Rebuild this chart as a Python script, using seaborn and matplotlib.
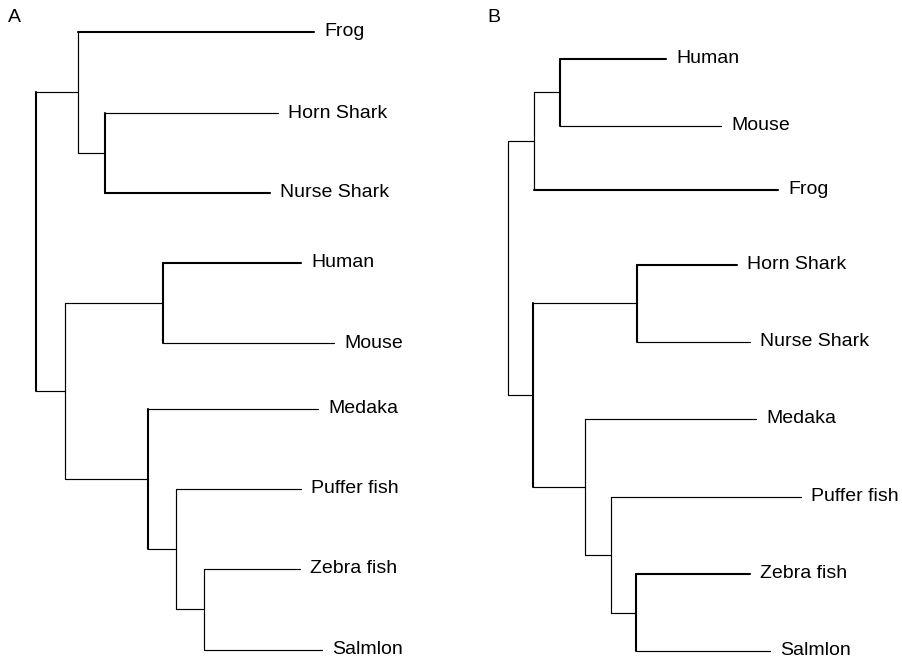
"""Two phylogenetic trees (A, B) drawn as rectangular dendrograms."""

import matplotlib
matplotlib.use("Agg")
import matplotlib.pyplot as plt
import pandas as pd
import seaborn as sns

# ---- tree A ---------------------------------------------------------------
leaves_a = ["Frog", "Horn Shark", "Nurse Shark", "Human", "Mouse",
            "Medaka", "Puffer fish", "Zebra fish", "Salmlon"]
leaf_row_a = [0.0, 1.05, 2.08, 2.99, 4.03, 4.88, 5.91, 6.95, 8.0]
leaf_depth_a = [2.78, 2.42, 2.34, 2.65, 2.98, 2.82, 2.65, 2.64, 2.86]
node_names_a = ["root", "amph_shark", "sharks", "mam_fish", "mammals",
                "fish", "puffer_clade", "zebra_salmon"]
node_children_a = [("amph_shark", "mam_fish"), ("Frog", "sharks"),
                   ("Horn Shark", "Nurse Shark"), ("mammals", "fish"),
                   ("Human", "Mouse"), ("Medaka", "puffer_clade"),
                   ("Puffer fish", "zebra_salmon"), ("Zebra fish", "Salmlon")]
node_depth_a = [0.0, 0.42, 0.69, 0.29, 1.27, 1.12, 1.40, 1.68]

# ---- tree B ---------------------------------------------------------------
leaves_b = ["Human", "Mouse", "Frog", "Horn Shark", "Nurse Shark",
            "Medaka", "Puffer fish", "Zebra fish", "Salmlon"]
leaf_row_b = [0.0, 0.905, 1.77, 2.78, 3.82, 4.86, 5.92, 6.96, 8.0]
leaf_depth_b = [1.58, 2.13, 2.70, 2.29, 2.42, 2.48, 2.93, 2.42, 2.62]
node_names_b = ["root", "tetrapods", "mammals", "shark_fish", "sharks",
                "fish", "puffer_clade", "zebra_salmon"]
node_children_b = [("tetrapods", "shark_fish"), ("mammals", "Frog"),
                   ("Human", "Mouse"), ("sharks", "fish"),
                   ("Horn Shark", "Nurse Shark"), ("Medaka", "puffer_clade"),
                   ("Puffer fish", "zebra_salmon"), ("Zebra fish", "Salmlon")]
node_depth_b = [0.0, 0.26, 0.52, 0.25, 1.29, 0.77, 1.03, 1.28]

# heavier strokes seen in the original (vertical = node, edge = child name)
bold_vert_a = {"root", "sharks", "mammals", "fish"}
bold_edge_a = {"Frog", "Nurse Shark", "Human"}
bold_vert_b = {"mammals", "sharks", "shark_fish", "zebra_salmon"}
bold_edge_b = {"Human", "Frog", "Horn Shark", "Zebra fish"}


def tree_segments(leaves, rows_, leaf_depth, names, children, depth, bold_vert, bold_edge):
    x = dict(zip(leaves, leaf_depth))
    x.update(zip(names, depth))
    kids = dict(zip(names, children))
    y = dict(zip(leaves, rows_))

    def ypos(n):
        if n not in y:
            y[n] = sum(ypos(c) for c in kids[n]) / 2
        return y[n]

    rows = []
    seg = 0
    for n in names:
        c1, c2 = kids[n]
        bold = n in bold_vert
        rows += [dict(seg=seg, x=x[n], y=ypos(c1), bold=bold),
                 dict(seg=seg, x=x[n], y=ypos(c2), bold=bold)]
        seg += 1
        for c in (c1, c2):
            bold = c in bold_edge
            rows += [dict(seg=seg, x=x[n], y=ypos(c), bold=bold),
                     dict(seg=seg, x=x[c], y=ypos(c), bold=bold)]
            seg += 1
    return pd.DataFrame(rows), x, y


def draw_tree(ax, df, x, y, leaves):
    for bold, lw in ((False, 0.85), (True, 1.5)):
        sub = df[df["bold"] == bold]
        sns.lineplot(data=sub, x="x", y="y", units="seg", estimator=None,
                     sort=False, color="black", lw=lw, ax=ax, legend=False)
    for leaf in leaves:
        ax.annotate(leaf, (x[leaf], y[leaf]), xytext=(7.5, 1.5),
                    textcoords="offset points", ha="left",
                    va="center_baseline", fontsize=14, color="black")
    ax.set_axis_off()


sns.set_style("white")
plt.rcParams["font.family"] = ["Liberation Sans", "DejaVu Sans"]
plt.rcParams["text.color"] = "black"

fig = plt.figure(figsize=(9.03, 6.59), dpi=100)

ax_a = fig.add_axes([0, 0, 0.5, 1])
df_a, xa, ya = tree_segments(leaves_a, leaf_row_a, leaf_depth_a, node_names_a,
                             node_children_a, node_depth_a, bold_vert_a, bold_edge_a)
draw_tree(ax_a, df_a, xa, ya, leaves_a)
ax_a.set_xlim(-0.36, 4.155)
ax_a.set_ylim(8.117, -0.414)

ax_b = fig.add_axes([0.5, 0, 0.5, 1])
df_b, xb, yb = tree_segments(leaves_b, leaf_row_b, leaf_depth_b, node_names_b,
                             node_children_b, node_depth_b, bold_vert_b, bold_edge_b)
draw_tree(ax_b, df_b, xb, yb, leaves_b)
ax_b.set_xlim(-0.565, 3.95)
ax_b.set_ylim(8.108, -0.797)

fig.text(8 / 903, 1 - 18 / 659, "A", fontsize=14, ha="left", va="center")
fig.text(487 / 903, 1 - 18 / 659, "B", fontsize=14, ha="left", va="center")

fig.savefig("out.png", dpi=100, facecolor="white")
